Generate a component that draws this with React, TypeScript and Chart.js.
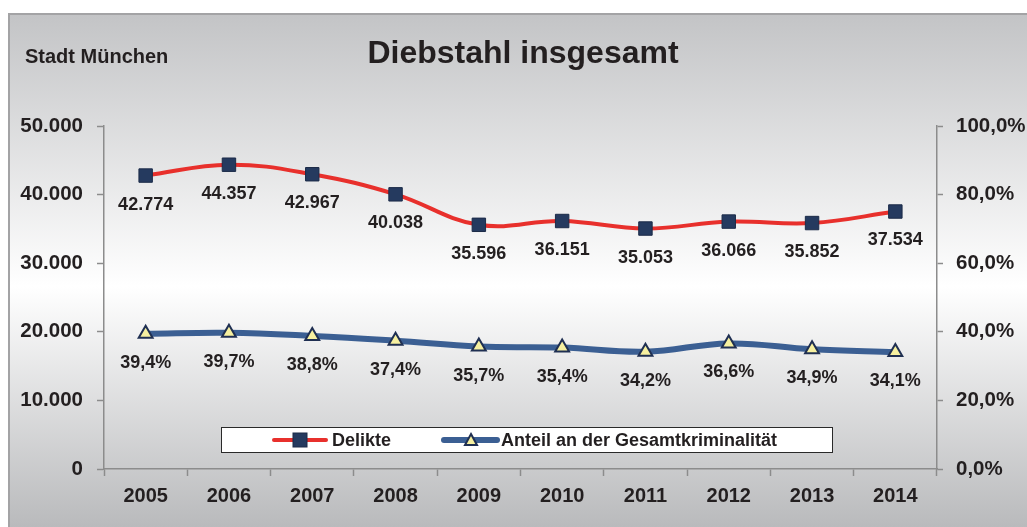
import React, { useEffect, useRef } from 'react';
import { Chart, registerables } from 'chart.js';

Chart.register(...registerables);

const categories = ['2005', '2006', '2007', '2008', '2009', '2010', '2011', '2012', '2013', '2014'];
const delikte = [42774, 44357, 42967, 40038, 35596, 36151, 35053, 36066, 35852, 37534];
const anteil = [39.4, 39.7, 38.8, 37.4, 35.7, 35.4, 34.2, 36.6, 34.9, 34.1];
const leftTicks = [0, 10000, 20000, 30000, 40000, 50000];
const rightTicks = [0, 20, 40, 60, 80, 100];

const seriesNames = ['Delikte', 'Anteil an der Gesamtkriminalität'];
const titleText = 'Diebstahl insgesamt';
const subtitleText = 'Stadt München';

const TEXT = '#231f20';
const AXIS = '#8c8c8c';
const RED = '#e8302c';
const BLUE = '#3b5f93';
const NAVY = '#253a5f';
const YELLOW = '#f6f0a0';
const FONT = '"Liberation Sans", Arial, Helvetica, sans-serif';

function fmtThousands(v: number): string {
  return String(Math.round(v)).replace(/\B(?=(\d{3})+(?!\d))/g, '.');
}
function fmtPct(v: number): string {
  return v.toFixed(1).replace('.', ',') + '%';
}

const overlayPlugin = {
  id: 'overlay',
  afterDatasetsDraw(chart: any) {
    const ctx: CanvasRenderingContext2D = chart.ctx;
    ctx.save();
    // data labels
    ctx.fillStyle = TEXT;
    ctx.font = `bold 18px ${FONT}`;
    ctx.textAlign = 'center';
    ctx.textBaseline = 'middle';
    chart.data.datasets.forEach((ds: any, i: number) => {
      const meta = chart.getDatasetMeta(i);
      meta.data.forEach((pt: any, j: number) => {
        const v = ds.data[j] as number;
        const txt = i === 0 ? fmtThousands(v) : fmtPct(v);
        ctx.fillText(txt, pt.x, pt.y + 29);
      });
    });

    // titles
    ctx.textBaseline = 'alphabetic';
    ctx.font = `bold 32px ${FONT}`;
    ctx.textAlign = 'center';
    ctx.fillText(titleText, 523, 63);
    ctx.font = `bold 20px ${FONT}`;
    ctx.textAlign = 'left';
    ctx.fillText(subtitleText, 25, 63);

    // legend
    const bx = 221, by = 427, bw = 611, bh = 25;
    ctx.fillStyle = '#ffffff';
    ctx.fillRect(bx, by, bw, bh);
    ctx.strokeStyle = '#2a2a2a';
    ctx.lineWidth = 1;
    ctx.strokeRect(bx + 0.5, by + 0.5, bw, bh);
    const cy = by + bh / 2 + 0.5;
    ctx.lineCap = 'round';
    // item 1
    ctx.strokeStyle = RED;
    ctx.lineWidth = 4;
    ctx.beginPath();
    ctx.moveTo(274, cy);
    ctx.lineTo(326, cy);
    ctx.stroke();
    ctx.fillStyle = NAVY;
    ctx.fillRect(293, cy - 7, 14, 14);
    ctx.strokeStyle = '#1c2b48';
    ctx.lineWidth = 1;
    ctx.strokeRect(293, cy - 7, 14, 14);
    // item 2
    ctx.strokeStyle = BLUE;
    ctx.lineWidth = 6;
    ctx.beginPath();
    ctx.moveTo(444, cy);
    ctx.lineTo(497, cy);
    ctx.stroke();
    ctx.fillStyle = YELLOW;
    ctx.strokeStyle = '#1f2f52';
    ctx.lineWidth = 2;
    ctx.beginPath();
    ctx.moveTo(471, cy - 6);
    ctx.lineTo(477, cy + 5);
    ctx.lineTo(465, cy + 5);
    ctx.closePath();
    ctx.fill();
    ctx.stroke();
    // texts
    ctx.fillStyle = TEXT;
    ctx.font = `bold 18px ${FONT}`;
    ctx.textAlign = 'left';
    ctx.textBaseline = 'middle';
    ctx.fillText(seriesNames[0], 332, cy + 1);
    ctx.fillText(seriesNames[1], 501, cy + 1);
    ctx.restore();
  },
};

export default function App() {
  const canvasRef = useRef<HTMLCanvasElement | null>(null);

  useEffect(() => {
    const canvas = canvasRef.current;
    if (!canvas) return;
    const tickFont = { family: FONT, size: 20.5, weight: 'bold' as const };
    const chart = new Chart(canvas, {
      type: 'line',
      data: {
        labels: categories,
        datasets: [
          {
            label: seriesNames[0],
            data: delikte,
            yAxisID: 'y',
            borderColor: RED,
            borderWidth: 4,
            tension: 0.4,
            pointStyle: 'rect',
            pointRadius: 9.5,
            pointHoverRadius: 9.5,
            pointBackgroundColor: NAVY,
            pointBorderColor: '#1c2b48',
            pointBorderWidth: 1,
          },
          {
            label: seriesNames[1],
            data: anteil,
            yAxisID: 'y1',
            borderColor: BLUE,
            borderWidth: 6,
            tension: 0.4,
            pointStyle: 'triangle',
            pointRadius: 8,
            pointHoverRadius: 8,
            pointBackgroundColor: YELLOW,
            pointBorderColor: '#1f2f52',
            pointBorderWidth: 2,
          },
        ],
      },
      options: {
        responsive: false,
        animation: false,
        layout: { padding: { top: 126, left: 0, right: 0, bottom: 0 } },
        plugins: {
          legend: { display: false },
          tooltip: { enabled: false },
          title: { display: false },
        },
        scales: {
          x: {
            offset: true,
            grid: {
              offset: true,
              drawOnChartArea: false,
              drawTicks: true,
              tickLength: 7,
              tickColor: AXIS,
              tickWidth: 1.5,
            },
            border: { color: AXIS, width: 1.5 },
            ticks: { color: TEXT, font: { family: FONT, size: 20, weight: 'bold' }, padding: 8 },
            afterFit(s: any) {
              s.height = 58;
            },
          },
          y: {
            position: 'left',
            min: leftTicks[0],
            max: leftTicks[leftTicks.length - 1],
            afterBuildTicks(s: any) {
              s.ticks = leftTicks.map((v) => ({ value: v }));
            },
            grid: { drawOnChartArea: false, tickLength: 7, tickColor: AXIS, tickWidth: 1.5 },
            border: { color: AXIS, width: 1.5 },
            ticks: {
              color: TEXT,
              font: tickFont,
              padding: 14,
              callback: (v: any) => fmtThousands(Number(v)),
            },
            afterFit(s: any) {
              s.width = 104;
            },
          },
          y1: {
            position: 'right',
            min: rightTicks[0],
            max: rightTicks[rightTicks.length - 1],
            afterBuildTicks(s: any) {
              s.ticks = rightTicks.map((v) => ({ value: v }));
            },
            grid: { drawOnChartArea: false, tickLength: 6, tickColor: AXIS, tickWidth: 1.5 },
            border: { color: AXIS, width: 1.5 },
            ticks: {
              color: TEXT,
              font: tickFont,
              padding: 13,
              callback: (v: any) => fmtPct(Number(v)),
            },
            afterFit(s: any) {
              s.width = 90;
            },
          },
        },
      },
      plugins: [overlayPlugin],
    });
    return () => chart.destroy();
  }, []);

  return (
    <div style={{ position: 'fixed', left: 0, top: 0, width: 1027, height: 527, background: '#ffffff', overflow: 'hidden' }}>
      <div
        style={{
          position: 'absolute',
          left: 8,
          top: 13,
          width: 1019,
          height: 514,
          boxSizing: 'border-box',
          borderTop: '2px solid #a3a3a5',
          borderLeft: '2px solid #a3a3a5',
          background: 'linear-gradient(to bottom, #c3c4c6 0%, #ffffff 53%, #b9babc 100%)',
        }}
      />
      <canvas
        ref={canvasRef}
        width={1027}
        height={527}
        style={{ position: 'absolute', left: 0, top: 0, width: 1027, height: 527 }}
      />
    </div>
  );
}
